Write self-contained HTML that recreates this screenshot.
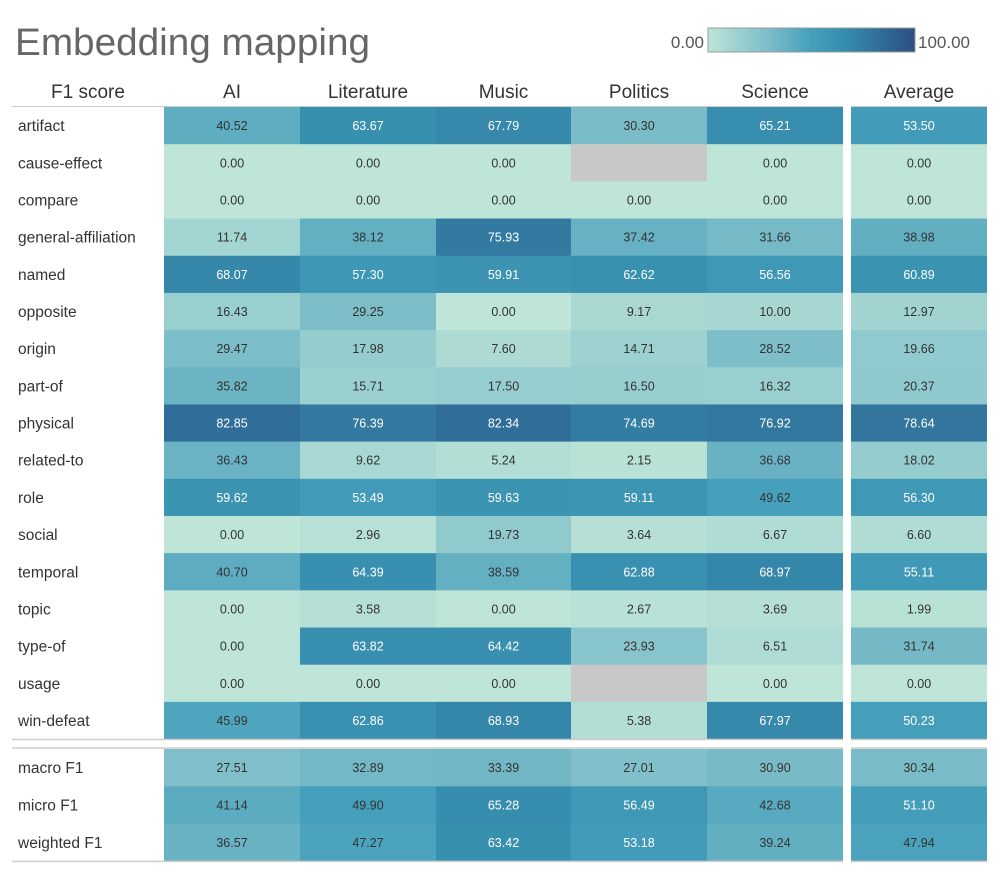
<!DOCTYPE html>
<html><head><meta charset="utf-8">
<style>
body{margin:0;background:#fff;}
svg{display:block;font-family:"Liberation Sans",sans-serif;}
</style></head>
<body>
<svg id="chart" width="1000" height="874" xmlns="http://www.w3.org/2000/svg">
<text x="15" y="55" font-size="38" fill="#666" textLength="355" lengthAdjust="spacingAndGlyphs">Embedding mapping</text>
<defs><linearGradient id="lg" x1="0" x2="1" y1="0" y2="0">
<stop offset="0" stop-color="#bee5d8"/><stop offset="0.3" stop-color="#7abcc8"/><stop offset="0.5" stop-color="#459fbb"/><stop offset="0.65" stop-color="#378eae"/><stop offset="0.83" stop-color="#306d98"/><stop offset="1" stop-color="#2b5080"/></linearGradient></defs>
<text x="704" y="48" font-size="17" fill="#555" text-anchor="end">0.00</text>
<rect x="708" y="28" width="207" height="24" fill="url(#lg)" stroke="#999" stroke-width="1"/>
<text x="918" y="48" font-size="17" fill="#555">100.00</text>
<g id="g"></g>
</svg>
<script>
const columns=["AI","Literature","Music","Politics","Science"];
const relations=["artifact","cause-effect","compare","general-affiliation","named","opposite","origin","part-of","physical","related-to","role","social","temporal","topic","type-of","usage","win-defeat"];
const aiVals=[40.52,0,0,11.74,68.07,16.43,29.47,35.82,82.85,36.43,59.62,0,40.70,0,0,0,45.99];
const litVals=[63.67,0,0,38.12,57.30,29.25,17.98,15.71,76.39,9.62,53.49,2.96,64.39,3.58,63.82,0,62.86];
const musicVals=[67.79,0,0,75.93,59.91,0,7.60,17.50,82.34,5.24,59.63,19.73,38.59,0,64.42,0,68.93];
const polVals=[30.30,null,0,37.42,62.62,9.17,14.71,16.50,74.69,2.15,59.11,3.64,62.88,2.67,23.93,null,5.38];
const sciVals=[65.21,0,0,31.66,56.56,10.00,28.52,16.32,76.92,36.68,49.62,6.67,68.97,3.69,6.51,0,67.97];
const avgVals=[53.50,0,0,38.98,60.89,12.97,19.66,20.37,78.64,18.02,56.30,6.60,55.11,1.99,31.74,0,50.23];
const summaryRows=["macro F1","micro F1","weighted F1"];
const sumAI=[27.51,41.14,36.57];
const sumLit=[32.89,49.90,47.27];
const sumMusic=[33.39,65.28,63.42];
const sumPol=[27.01,56.49,53.18];
const sumSci=[30.90,42.68,39.24];
const sumAvg=[30.34,51.10,47.94];

const NS="http://www.w3.org/2000/svg";
const g=document.getElementById("g");
const stops=[[0,[190,229,216]],[30,[122,188,200]],[50,[69,159,187]],[65,[55,142,174]],[83,[48,109,152]],[100,[43,80,128]]];
function color(v){
  if(v===null) return "#c8c8c8";
  for(let i=1;i<stops.length;i++){
    if(v<=stops[i][0]){const a=stops[i-1],b=stops[i];const t=(v-a[0])/(b[0]-a[0]);
      const c=a[1].map((x,k)=>Math.round(x+(b[1][k]-x)*t));return `rgb(${c})`;}
  }
  return "rgb(43,80,128)";
}
function el(tag,attrs,txt){const e=document.createElementNS(NS,tag);for(const k in attrs)e.setAttribute(k,attrs[k]);if(txt!==undefined)e.textContent=txt;g.appendChild(e);return e;}
const colX=[164,300,436,571,707];const colW=[136,136,135,136,136];
const avgX=851,avgW=136;
const hdr=el("text",{x:88,y:98,"font-size":19,fill:"#333","text-anchor":"middle"},"F1 score");


columns.forEach((c,i)=>{
  const t=el("text",{x:colX[i]+colW[i]/2,y:98,"font-size":19,fill:"#333","text-anchor":"middle"},c);
  
  
});
const ah=el("text",{x:avgX+avgW/2,y:98,"font-size":19,fill:"#333","text-anchor":"middle"},"Average");


const l1=el("line",{x1:12,x2:843,y1:106.5,y2:106.5,stroke:"#ccc","stroke-width":1});


const l1b=el("line",{x1:851,x2:987,y1:106.5,y2:106.5,stroke:"#ccc","stroke-width":1});


function drawBlock(labels,series,avgs,y0,rh){
  labels.forEach((lab,r)=>{
    const y=y0+r*rh;
    const lt=el("text",{x:18,y:y+rh/2+5.5,"font-size":15.5,fill:"#333"},lab);
    
    
    const vals=series.map(s=>s[r]);
    vals.concat([avgs[r]]).forEach((v,c)=>{
      const x=c<5?colX[c]:avgX,w=c<5?colW[c]:avgW;
      const rc=el("rect",{x:x,y:y,width:w,height:rh+0.5,fill:color(v)});
      
      
      if(v!==null){
        const t=el("text",{x:x+w/2,y:y+rh/2+4.5,"font-size":12.5,fill:v>=50?"#fff":"#333","text-anchor":"middle"},v.toFixed(2));
        
        
      }
    });
  });
  const yb=y0+labels.length*rh+0.5;
  const a=el("line",{x1:12,x2:843,y1:yb,y2:yb,stroke:"#ccc","stroke-width":1.5});
  
  
  const b=el("line",{x1:851,x2:987,y1:yb,y2:yb,stroke:"#ccc","stroke-width":1.5});
  
  
}
drawBlock(relations,[aiVals,litVals,musicVals,polVals,sciVals],avgVals,107,37.18);
const l2=el("line",{x1:12,x2:843,y1:748,y2:748,stroke:"#ccc","stroke-width":1.5});


const l2b=el("line",{x1:851,x2:987,y1:748,y2:748,stroke:"#ccc","stroke-width":1.5});


drawBlock(summaryRows,[sumAI,sumLit,sumMusic,sumPol,sumSci],sumAvg,749,37.3);
</script>
</body></html>
